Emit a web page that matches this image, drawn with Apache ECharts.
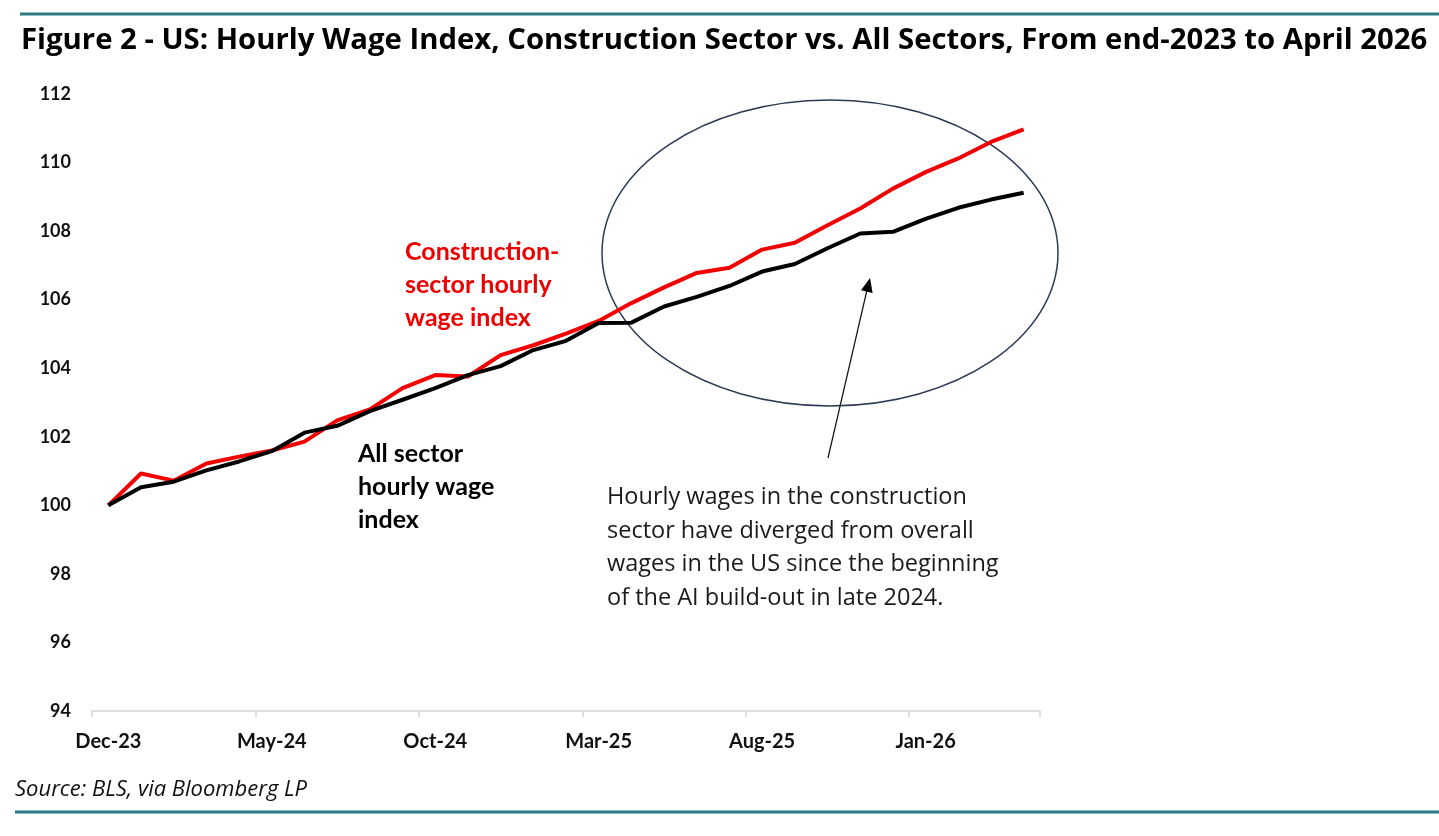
<!DOCTYPE html>
<html>
<head>
<meta charset="utf-8">
<script src="https://cdn.jsdelivr.net/npm/echarts@6/dist/echarts.min.js"></script>
<style>
html,body{margin:0;padding:0;background:#fff;}
#chart{width:1439px;height:836px;}
</style>
</head>
<body>
<div id="chart"></div>
<script>
const categories = ['Dec-23','Jan-24','Feb-24','Mar-24','Apr-24','May-24','Jun-24','Jul-24','Aug-24','Sep-24','Oct-24','Nov-24','Dec-24','Jan-25','Feb-25','Mar-25','Apr-25','May-25','Jun-25','Jul-25','Aug-25','Sep-25','Oct-25','Nov-25','Dec-25','Jan-26','Feb-26','Mar-26','Apr-26'];
const construction = [100.0,100.93,100.72,101.22,101.42,101.6,101.86,102.48,102.8,103.42,103.8,103.76,104.38,104.67,105.01,105.38,105.9,106.36,106.78,106.93,107.46,107.66,108.17,108.66,109.24,109.72,110.12,110.6,110.97];
const allSectors = [100.0,100.53,100.69,101.02,101.28,101.58,102.12,102.32,102.75,103.08,103.42,103.8,104.06,104.53,104.8,105.32,105.33,105.8,106.08,106.4,106.82,107.04,107.5,107.93,107.98,108.36,108.68,108.92,109.12];
const yTicks = {min: 94, max: 112, interval: 2};

const teal = '#2b7c87';
const chart = echarts.init(document.getElementById('chart'));
chart.setOption({
  animation: false,
  backgroundColor: '#fff',
  grid: {left: 92, right: 399, top: 94, bottom: 125},
  xAxis: {
    type: 'category',
    data: categories,
    boundaryGap: true,
    axisLine: {lineStyle: {color: '#d4d4d4', width: 1.5}},
    axisTick: {show: true, interval: 4, length: 6, lineStyle: {color: '#d4d4d4', width: 1.5}},
    axisLabel: {interval: 4, margin: 21, color: '#111', fontFamily: 'Lato', fontWeight: 'bold', fontSize: 20}
  },
  yAxis: {
    type: 'value',
    min: yTicks.min, max: yTicks.max, interval: yTicks.interval,
    axisLine: {show: false},
    axisTick: {show: false},
    splitLine: {show: false},
    axisLabel: {margin: 21, color: '#111', fontFamily: 'Lato', fontWeight: 'bold', fontSize: 18}
  },
  series: [
    {name: 'Construction', type: 'line', data: construction, symbol: 'none', lineStyle: {color: '#f20000', width: 4}, z: 2},
    {name: 'All sectors', type: 'line', data: allSectors, symbol: 'none', lineStyle: {color: '#000', width: 4}, z: 3}
  ],
  graphic: [
    {type: 'line', shape: {x1: 20, y1: 14, x2: 1439, y2: 14}, style: {stroke: teal, lineWidth: 3}},
    {type: 'line', shape: {x1: 15, y1: 812, x2: 1439, y2: 812}, style: {stroke: teal, lineWidth: 3}},
    {type: 'text', left: 21, top: 26, style: {text: 'Figure 2 - US: Hourly Wage Index, Construction Sector vs. All Sectors, From end-2023 to April 2026', font: 'bold 29.3px "Open Sans"', fill: '#000'}},
    {type: 'text', left: 15, top: 779, style: {text: 'Source: BLS, via Bloomberg LP', font: 'italic 22px "Open Sans"', fill: '#111'}},
    {type: 'ellipse', shape: {cx: 830, cy: 253, rx: 228, ry: 153}, style: {fill: 'none', stroke: '#2d3a55', lineWidth: 1.5}, z: 1},
    {type: 'line', shape: {x1: 828, y1: 458, x2: 867, y2: 290}, style: {stroke: '#111', lineWidth: 1.2}},
    {type: 'polygon', shape: {points: [[870, 278], [872.6, 293], [861, 290.2]]}, style: {fill: '#000'}},
    {type: 'text', left: 405, top: 235, style: {text: 'Construction-\nsector hourly\nwage index', font: 'bold 25px Lato', fill: '#ee0000', lineHeight: 33}},
    {type: 'text', left: 358, top: 437, style: {text: 'All sector\nhourly wage\nindex', font: 'bold 25px Lato', fill: '#000', lineHeight: 33}},
    {type: 'text', left: 607, top: 481, style: {text: 'Hourly wages in the construction\nsector have diverged from overall\nwages in the US since the beginning\nof the AI build-out in late 2024.', font: '23.5px "Open Sans"', fill: '#1a1a1a', lineHeight: 33.5}}
  ]
});
</script>
</body>
</html>
